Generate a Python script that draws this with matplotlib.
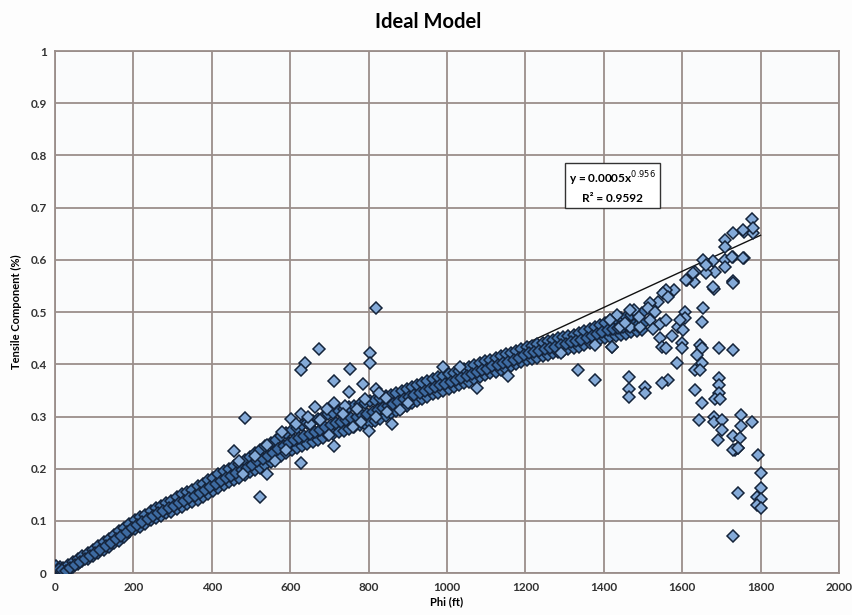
import matplotlib
matplotlib.use("Agg")
import matplotlib.pyplot as plt
import numpy as np

# 主带数据 (Phi, 下/中/上)
band_x = [3, 12, 21, 33, 45, 58, 70, 84, 97, 110, 124, 137, 150, 163, 177, 190, 204, 217, 230, 244,
          257, 270, 284, 297, 310, 324, 337, 350, 364, 377, 390, 404, 417, 430, 444, 457, 470, 484, 497, 510,
          524, 537, 550, 564, 577, 590, 604, 617, 630, 644, 657, 670, 684, 697, 710, 724, 737, 750, 764, 777,
          790, 804, 817, 830, 844, 857, 870, 884, 897, 910, 924, 937, 950, 964, 977, 990, 1004, 1017, 1030, 1044,
          1057, 1070, 1084, 1097, 1110, 1124, 1137, 1150, 1164, 1177, 1190, 1204, 1217, 1230, 1244, 1257, 1270, 1284, 1297, 1310,
          1324, 1337, 1350, 1364, 1377, 1390, 1404, 1417, 1430, 1444, 1457, 1470, 1484, 1497]
band_mid_x = [9, 18, 27, 39, 51, 64, 76, 90, 103, 116, 130, 143, 156, 169, 183, 196, 210, 223, 236, 250,
              263, 276, 290, 303, 316, 330, 343, 356, 370, 383, 396, 410, 423, 436, 450, 463, 476, 490, 503, 516,
              530, 543, 556, 570, 583, 596, 610, 623, 636, 650, 663, 676, 690, 703, 716, 730, 743, 756, 770, 783,
              796, 810, 823, 836, 850, 863, 876, 890, 903, 916, 930, 943, 956, 970, 983, 996, 1010, 1023, 1036, 1050,
              1063, 1076, 1090, 1103, 1116, 1130, 1143, 1156, 1170, 1183, 1196, 1210, 1223, 1236, 1250, 1263, 1276, 1290, 1303, 1316,
              1330, 1343, 1356, 1370, 1383, 1396, 1410, 1423, 1436, 1450, 1463, 1476, 1490, 1503]
band_mid = [0.008, 0.006, 0.004, 0.010, 0.016, 0.022, 0.028, 0.033, 0.039, 0.045, 0.052, 0.058, 0.065, 0.071, 0.079, 0.087, 0.093, 0.098, 0.104, 0.110,
            0.115, 0.120, 0.125, 0.129, 0.134, 0.139, 0.144, 0.148, 0.154, 0.159, 0.165, 0.171, 0.176, 0.182, 0.187, 0.192, 0.197, 0.202, 0.208, 0.214,
            0.219, 0.225, 0.231, 0.237, 0.243, 0.249, 0.255, 0.259, 0.263, 0.267, 0.271, 0.275, 0.280, 0.284, 0.287, 0.290, 0.294, 0.297, 0.300, 0.303,
            0.305, 0.308, 0.312, 0.316, 0.320, 0.324, 0.328, 0.333, 0.337, 0.341, 0.345, 0.349, 0.353, 0.357, 0.360, 0.363, 0.367, 0.370, 0.374, 0.378,
            0.381, 0.385, 0.389, 0.392, 0.396, 0.399, 0.402, 0.405, 0.409, 0.413, 0.417, 0.421, 0.423, 0.426, 0.429, 0.431, 0.434, 0.437, 0.439, 0.442,
            0.444, 0.447, 0.450, 0.454, 0.458, 0.462, 0.465, 0.468, 0.470, 0.472, 0.474, 0.476, 0.478, 0.480]
band_hi = [0.013, 0.011, 0.009, 0.015, 0.021, 0.028, 0.033, 0.039, 0.045, 0.053, 0.060, 0.066, 0.073, 0.080, 0.087, 0.095, 0.102, 0.107, 0.112, 0.119,
           0.124, 0.129, 0.134, 0.139, 0.145, 0.151, 0.156, 0.160, 0.167, 0.171, 0.178, 0.183, 0.189, 0.195, 0.199, 0.206, 0.210, 0.216, 0.222, 0.230,
           0.236, 0.243, 0.249, 0.256, 0.262, 0.268, 0.275, 0.279, 0.284, 0.288, 0.291, 0.296, 0.300, 0.305, 0.307, 0.311, 0.314, 0.318, 0.320, 0.324,
           0.326, 0.329, 0.332, 0.336, 0.339, 0.342, 0.345, 0.349, 0.353, 0.356, 0.360, 0.364, 0.368, 0.371, 0.375, 0.378, 0.381, 0.384, 0.388, 0.392,
           0.395, 0.399, 0.402, 0.406, 0.409, 0.412, 0.416, 0.419, 0.422, 0.426, 0.430, 0.433, 0.436, 0.439, 0.441, 0.444, 0.447, 0.450, 0.452, 0.455,
           0.457, 0.460, 0.463, 0.467, 0.472, 0.476, 0.480, 0.484, 0.487, 0.489, 0.491, 0.494, 0.496, 0.499]
band_lo = [0.004, 0.002, 0.001, 0.005, 0.011, 0.017, 0.023, 0.027, 0.033, 0.038, 0.044, 0.050, 0.057, 0.062, 0.070, 0.078, 0.085, 0.089, 0.095, 0.101,
           0.105, 0.110, 0.115, 0.118, 0.123, 0.127, 0.132, 0.136, 0.141, 0.146, 0.152, 0.158, 0.163, 0.168, 0.174, 0.178, 0.183, 0.188, 0.193, 0.198,
           0.202, 0.208, 0.213, 0.218, 0.225, 0.230, 0.236, 0.240, 0.243, 0.247, 0.251, 0.255, 0.259, 0.264, 0.267, 0.270, 0.273, 0.277, 0.280, 0.283,
           0.285, 0.288, 0.292, 0.296, 0.301, 0.306, 0.311, 0.317, 0.321, 0.326, 0.330, 0.334, 0.338, 0.343, 0.346, 0.349, 0.353, 0.356, 0.360, 0.364,
           0.367, 0.371, 0.376, 0.379, 0.383, 0.386, 0.389, 0.392, 0.396, 0.400, 0.404, 0.408, 0.410, 0.413, 0.416, 0.418, 0.421, 0.424, 0.426, 0.429,
           0.431, 0.434, 0.437, 0.441, 0.444, 0.448, 0.451, 0.453, 0.455, 0.457, 0.459, 0.461, 0.463, 0.465]

# 离散点
scatter_x = [674, 804, 804, 638, 627, 752, 712, 786, 750, 818, 826, 990, 663, 712, 695, 791, 485, 601, 627, 676,
             861, 802, 712, 457, 627, 523, 819, 846, 740, 770, 650, 580, 540, 760, 880,
             590, 615, 645, 700, 735, 780, 820, 845, 900, 560, 540, 510, 480, 470,
             1033, 1077, 1156, 1335, 1377, 1420, 1377, 1292,
             1730, 1757, 1781, 1709, 1709, 1730, 1757, 1709, 1709, 1679, 1661, 1684, 1661, 1633, 1631, 1612, 1682, 1730, 1730,
             1579, 1560, 1551, 1564, 1539, 1518, 1514, 1476, 1467, 1433, 1416, 1442, 1467, 1493, 1518, 1544, 1560, 1590,
             1607, 1607, 1594, 1603, 1654, 1650, 1599, 1599, 1586, 1564, 1548, 1505, 1505, 1465, 1465, 1465, 1420,
             1543, 1548, 1560, 1646, 1650, 1637, 1694, 1730, 1650, 1633, 1645, 1633, 1651, 1695, 1695, 1695, 1684, 1697,
             1644, 1682, 1682, 1702, 1751, 1779, 1751, 1701, 1692, 1730, 1747, 1734, 1743, 1794,
             1801, 1801, 1743, 1790, 1801, 1790, 1801, 1729, 1730, 1743,
             1778, 1781, 1756, 1726, 1756, 1679, 1730, 1654, 1662, 1628, 1611, 1530, 1490, 1455, 1525, 1575]
scatter_y = [0.430, 0.421, 0.402, 0.402, 0.389, 0.391, 0.368, 0.363, 0.347, 0.352, 0.346, 0.395, 0.319, 0.326, 0.315, 0.333, 0.298, 0.295, 0.304, 0.293,
             0.285, 0.272, 0.243, 0.234, 0.211, 0.146, 0.507, 0.309, 0.320, 0.315, 0.285, 0.270, 0.190, 0.280, 0.312,
             0.235, 0.285, 0.300, 0.265, 0.305, 0.290, 0.300, 0.335, 0.325, 0.215, 0.245, 0.225, 0.190, 0.215,
             0.395, 0.354, 0.377, 0.389, 0.370, 0.434, 0.437, 0.421,
             0.652, 0.654, 0.652, 0.639, 0.625, 0.606, 0.604, 0.599, 0.587, 0.598, 0.593, 0.577, 0.574, 0.577, 0.558, 0.561, 0.544, 0.557, 0.560,
             0.542, 0.542, 0.536, 0.529, 0.520, 0.517, 0.507, 0.504, 0.504, 0.494, 0.485, 0.472, 0.472, 0.472, 0.485, 0.478, 0.485, 0.472,
             0.501, 0.488, 0.485, 0.466, 0.507, 0.482, 0.440, 0.431, 0.402, 0.370, 0.364, 0.357, 0.345, 0.375, 0.352, 0.337, 0.434,
             0.450, 0.434, 0.431, 0.437, 0.431, 0.418, 0.432, 0.427, 0.402, 0.389, 0.389, 0.351, 0.325, 0.373, 0.360, 0.345, 0.333, 0.333,
             0.294, 0.300, 0.290, 0.294, 0.302, 0.290, 0.281, 0.275, 0.255, 0.262, 0.259, 0.236, 0.240, 0.227,
             0.191, 0.164, 0.154, 0.145, 0.142, 0.130, 0.124, 0.071, 0.236, 0.239,
             0.679, 0.661, 0.657, 0.606, 0.603, 0.548, 0.555, 0.600, 0.590, 0.574, 0.562, 0.500, 0.490, 0.480, 0.468, 0.455]

# 幂函数趋势线参数
fit_a = 0.0005
fit_b = 0.956
fit_r2 = 0.9592
fit_xmax = 1800

plt.rcParams['font.family'] = ['Lato', 'DejaVu Sans']

fig = plt.figure(figsize=(8.53, 6.15), dpi=100, facecolor='#fdfdfd')
ax = fig.add_axes([0.0645, 0.068, 0.919, 0.849])
ax.set_facecolor('#fafbfc')

grid_c = '#9a8e8a'
ax.set_xlim(0, 2000)
ax.set_ylim(0, 1)
ax.set_xticks(range(0, 2001, 200))
ax.set_yticks([i / 10 for i in range(11)])
ax.set_yticklabels(['0', '0.1', '0.2', '0.3', '0.4', '0.5', '0.6', '0.7', '0.8', '0.9', '1'])
ax.grid(True, color=grid_c, linewidth=1.3, zorder=0)
ax.set_axisbelow(True)
for s in ax.spines.values():
    s.set_color(grid_c)
    s.set_linewidth(1.3)
ax.tick_params(length=0, pad=6, labelsize=8.5, labelcolor='#333333')
for lab in ax.get_xticklabels() + ax.get_yticklabels():
    lab.set_fontweight('bold')

# 趋势线
tx = np.linspace(1, fit_xmax, 400)
ax.plot(tx, fit_a * tx ** fit_b, color='#111111', linewidth=1.0, zorder=2)

mk = dict(marker='D', markersize=6.4, markeredgecolor='#14233a', markeredgewidth=1.1,
          linestyle='none', zorder=3)
ax.plot(band_x, band_lo, markerfacecolor='#4a78ae', **mk)
ax.plot(band_x, band_hi, markerfacecolor='#4a78ae', **mk)
ax.plot(band_mid_x, band_mid, markerfacecolor='#3d6aa0', **mk)
ax.plot(scatter_x, scatter_y, markerfacecolor='#84aad8', **mk)

ax.text(1423, 0.740, f'y = {fit_a}x$^{{{fit_b}}}$\nR² = {fit_r2}', ha='center', va='center',
        fontsize=8.5, fontweight='bold', linespacing=1.5, zorder=5,
        bbox=dict(boxstyle='square,pad=0.35', facecolor='white', edgecolor='#333333', linewidth=1))

fig.text(0.502, 0.964, 'Ideal Model', ha='center', va='center', fontsize=14.5, fontweight='bold')
ax.set_xlabel('Phi (ft)', fontsize=8, fontweight='bold', labelpad=3)
ax.set_ylabel('Tensile Component (%)', fontsize=8, fontweight='bold', labelpad=6)

fig.savefig('out.png', dpi=100, facecolor=fig.get_facecolor())
